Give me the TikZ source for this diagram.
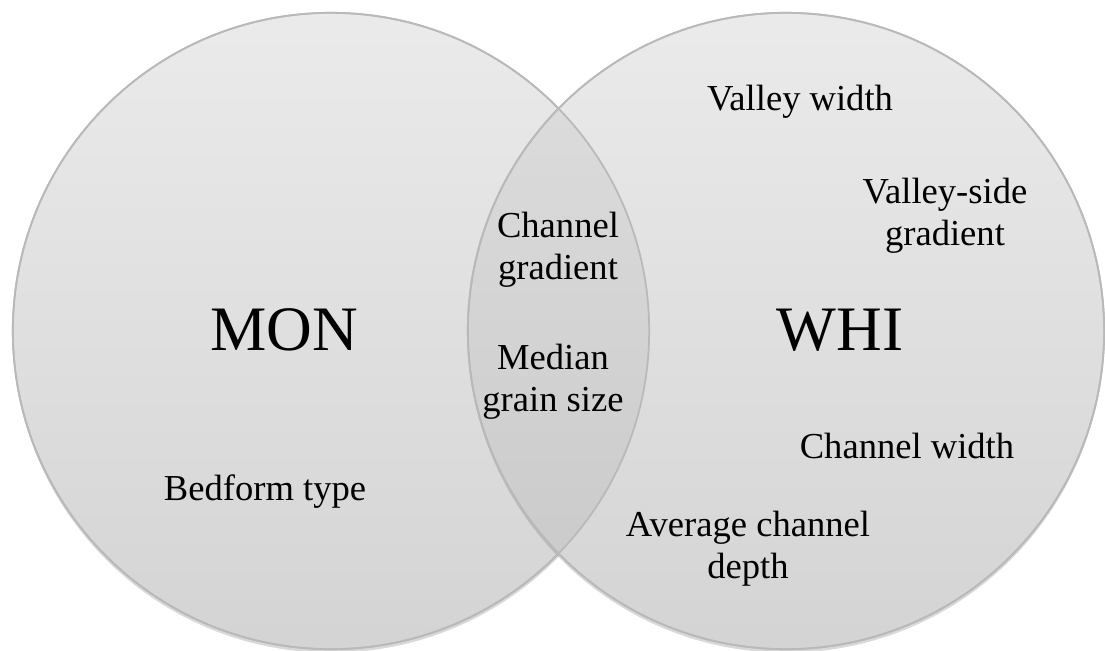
\documentclass[tikz,border=0pt]{standalone}
\usepackage{fontspec}
\setmainfont{Liberation Serif}
\usepackage{tikz}
\usetikzlibrary{shadows}

\begin{document}
\begin{tikzpicture}[
      x=0.01cm,
      y=-0.01cm,
      cercle/.style={
        circle,
        minimum size=6.36cm,
        inner sep=0pt,
        draw=gray!55,
        line width=0.5pt,
        top color=gray!16,
        bottom color=gray!34,
        drop shadow={shadow xshift=0pt,shadow yshift=-1pt,opacity=0.3}
      },
      titre/.style={
        font=\fontsize{18}{21}\selectfont,
        align=center
      },
      terme/.style={
        font=\fontsize{10.4}{12}\selectfont,
        align=center,
        inner sep=1pt
      }
    ]
      \useasboundingbox (0,0) rectangle (1105,651);

      \node (mon) at (331,331) [cercle]{};
      \node (whi) at (786,331) [cercle]{};

      % zone commune
      \begin{scope}
        \clip (mon.center) circle (3.18cm);
        \fill[black,opacity=0.05] (whi.center) circle (3.18cm);
      \end{scope}
      \draw[gray!55,line width=0.5pt] (mon.center) circle (3.18cm);
      \draw[gray!55,line width=0.5pt] (whi.center) circle (3.18cm);

      \node (t1) at (284,330) [titre]{MON};
      \node (t2) at (840,330) [titre]{WHI};

      \node (c1) at (558,250) [terme]{Channel\\gradient};
      \node (c2) at (553,382) [terme]{Median\\grain size};

      \node (m1) at (265,492) [terme]{Bedform type};

      \node (w1) at (800,102) [terme]{Valley width};
      \node (w2) at (945,216) [terme]{Valley-side\\gradient};
      \node (w3) at (907,446) [terme]{Channel width};
      \node (w4) at (748,549) [terme]{Average channel\\depth};

    \end{tikzpicture}
\end{document}
